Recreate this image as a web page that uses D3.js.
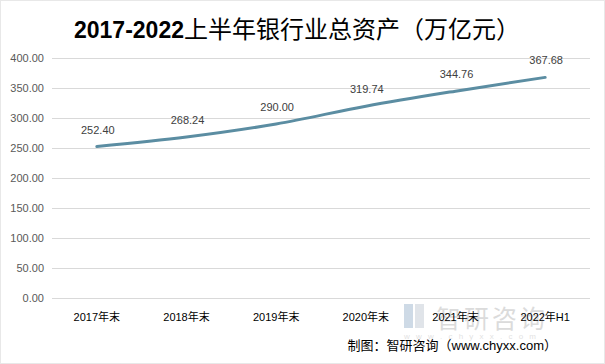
<!DOCTYPE html>
<html><head><meta charset="utf-8">
<script src="https://cdn.jsdelivr.net/npm/d3@7"></script>
<style>body{margin:0;background:#fff}svg{display:block}</style>
</head><body>
<script>
const categories = ["2017年末","2018年末","2019年末","2020年末","2021年末","2022年H1"];
const values = [252.40, 268.24, 290.00, 319.74, 344.76, 367.68];
const yTicks = [0,50,100,150,200,250,300,350,400];
const titleA = "2017-2022";
const titleB = "上半年银行业总资产（万亿元）";
const source = "制图：智研咨询（www.chyxx.com）";

const W = 605, H = 364;
const m = {left: 52, right: 15, top: 58, bottom: 66};
const svg = d3.select("body").append("svg").attr("width", W).attr("height", H);
svg.append("rect").attr("x",0.5).attr("y",0.5).attr("width",W-1).attr("height",H-1)
  .attr("fill","#fff").attr("stroke","#d0d0d0").attr("stroke-dasharray","1,1");

const x = d3.scaleBand().domain(categories).range([m.left, W - m.right]);
const y = d3.scaleLinear().domain([0,400]).range([H - m.bottom, m.top]);

// gridlines
svg.append("g").selectAll("line").data(yTicks).join("line")
  .attr("x1", m.left).attr("x2", W - m.right)
  .attr("y1", d => y(d)+0.5).attr("y2", d => y(d)+0.5)
  .attr("stroke", "#d9d9d9").attr("stroke-width", 1);

// y axis
const yAxis = svg.append("g").attr("transform", `translate(${m.left-8},0)`)
  .call(d3.axisLeft(y).tickValues(yTicks).tickFormat(d3.format(".2f")).tickSize(0).tickPadding(0));
yAxis.select(".domain").remove();
yAxis.selectAll("text").attr("fill","#595959").style("font-family","'Liberation Sans', Arial, sans-serif").style("font-size","11px");

// watermark (light, behind labels)
const wm = svg.append("g").attr("opacity", 0.3);
wm.append("rect").attr("x", 404).attr("y", 304).attr("width", 9).attr("height", 24).attr("fill", "#5f86b0");
wm.append("rect").attr("x", 415).attr("y", 304).attr("width", 9).attr("height", 24).attr("fill", "#9aa9b8");
wm.append("text").attr("x", 436).attr("y", 328).text("智研咨询")
  .attr("fill","#8a8a8a").style("font-family","'Noto Sans CJK SC'").style("font-size","25px").style("letter-spacing","3px");
wm.append("text").attr("x", 404).attr("y", 339).text("w w w . c h y x x . c o m")
  .attr("fill","#a0a0a0").style("font-family","'Liberation Sans'").style("font-size","8px").style("letter-spacing","2px");

// x axis
const xAxis = svg.append("g").attr("transform", `translate(0,${H - m.bottom})`)
  .call(d3.axisBottom(x).tickSize(0).tickPadding(15));
xAxis.select(".domain").remove();
xAxis.selectAll("text").attr("fill","#000").style("font-family","'Liberation Sans','Noto Sans CJK SC', sans-serif").style("font-size","11px");

// line
const line = d3.line().x((d,i) => x(categories[i]) + x.bandwidth()/2).y(d => y(d)).curve(d3.curveMonotoneX);
svg.append("path").datum(values).attr("d", line)
  .attr("fill","none").attr("stroke","#5b8da2").attr("stroke-width",3).attr("stroke-linecap","round");

// data labels
svg.append("g").selectAll("text").data(values).join("text")
  .attr("x", (d,i) => x(categories[i]) + x.bandwidth()/2 + 1)
  .attr("y", d => y(d) - 13)
  .attr("text-anchor","middle")
  .attr("fill","#404040").style("font-family","'Liberation Sans', Arial, sans-serif").style("font-size","11px")
  .text(d => d3.format(".2f")(d));

// title
const t = svg.append("text").attr("x", 297).attr("y", 38).attr("text-anchor","middle")
  .style("font-family","'Liberation Sans','Noto Sans CJK SC', sans-serif").style("font-size","23px")
  .attr("fill","#000");
t.append("tspan").style("font-weight","bold").text(titleA);
t.append("tspan").style("font-weight","normal").style("font-size","24px").text(titleB);

// source
svg.append("text").attr("x", 557).attr("y", 350).attr("text-anchor","end")
  .style("font-family","'Liberation Sans','Noto Sans CJK SC', sans-serif").style("font-size","13px")
  .attr("fill","#000").text(source);
</script>
</body></html>
